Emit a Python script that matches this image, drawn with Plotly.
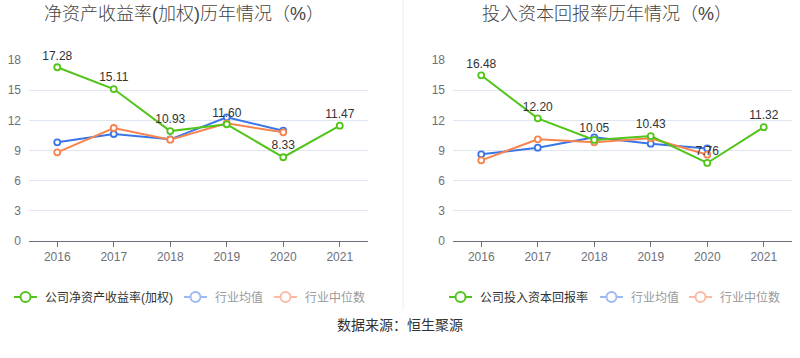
import plotly.graph_objects as go

years = ["2016", "2017", "2018", "2019", "2020", "2021"]
years_ind = ["2016", "2017", "2018", "2019", "2020"]

roe_company = [17.28, 15.11, 10.93, 11.60, 8.33, 11.47]
roe_mean = [9.81, 10.64, 10.11, 12.30, 10.97]
roe_median = [8.82, 11.24, 10.08, 11.70, 10.81]

roic_company = [16.48, 12.20, 10.05, 10.43, 7.76, 11.32]
roic_mean = [8.62, 9.28, 10.31, 9.68, 9.21]
roic_median = [8.02, 10.11, 9.81, 10.21, 8.58]

titles = ["净资产收益率(加权)历年情况（%）", "投入资本回报率历年情况（%）"]
company_names = ["公司净资产收益率(加权)", "公司投入资本回报率"]
mean_name = "行业均值"
median_name = "行业中位数"
source_text = "数据来源：恒生聚源"
y_ticks = [0, 3, 6, 9, 12, 15, 18]

GREEN = "#52c41a"
BLUE = "#3a75e8"
ORANGE = "#f7844f"
BLUE_L = "#9dbaf5"
ORANGE_L = "#fbbba2"
FONT = "Liberation Sans, Noto Sans CJK SC"

fig = go.Figure()

def add_series(x, y, color, xa, ya, labels):
    fig.add_trace(go.Scatter(
        x=x, y=y, xaxis=xa, yaxis=ya, mode="lines+markers+text" if labels else "lines+markers",
        line=dict(color=color, width=2),
        marker=dict(symbol="circle", size=6, color="white", line=dict(color=color, width=1.8)),
        text=[f"{v:.2f}" for v in y] if labels else None,
        textposition="top center",
        textfont=dict(size=12, color="#333333", family=FONT),
        hoverinfo="skip", showlegend=False, cliponaxis=False,
    ))

add_series(years_ind, roe_mean, BLUE, "x", "y", False)
add_series(years_ind, roe_median, ORANGE, "x", "y", False)
add_series(years, roe_company, GREEN, "x", "y", True)
add_series(years_ind, roic_mean, BLUE, "x2", "y2", False)
add_series(years_ind, roic_median, ORANGE, "x2", "y2", False)
add_series(years, roic_company, GREEN, "x2", "y2", True)

W, H = 800, 358
ydom = [1 - 241 / H, 1 - 60 / H]
xcommon = dict(type="category", categoryorder="array", categoryarray=years, range=[-0.5, 5.5],
               showline=True, linecolor="#6e7079", linewidth=1, ticks="outside", ticklen=5,
               tickcolor="#6e7079", showgrid=False, zeroline=False, automargin=False,
               tickfont=dict(size=12, color="#6e7079", family=FONT), fixedrange=True)
ycommon = dict(range=[0, 18], tickvals=y_ticks, showgrid=True, gridcolor="#e0e6f1", gridwidth=1,
               zeroline=False, showline=False, ticks="", ticklabelstandoff=7, automargin=False,
               tickfont=dict(size=12, color="#6e7079", family=FONT), domain=ydom, fixedrange=True)

fig.update_layout(
    width=W, height=H, margin=dict(l=0, r=0, t=0, b=0, pad=0),
    paper_bgcolor="white", plot_bgcolor="white",
    font=dict(family=FONT),
    xaxis=dict(domain=[29 / W, 368 / W], anchor="y", **xcommon),
    yaxis=dict(anchor="x", **ycommon),
    xaxis2=dict(domain=[453 / W, 792 / W], anchor="y2", **xcommon),
    yaxis2=dict(anchor="x2", **ycommon),
    showlegend=False,
)

annotations = []
shapes = []
for cx, t in zip([184, 607], titles):
    annotations.append(dict(x=cx / W, y=1 - 14 / H, xref="paper", yref="paper", text=t, showarrow=False,
                            xanchor="center", yanchor="middle",
                            font=dict(size=18, color="#444444", family=FONT, weight=300)))
shapes.append(dict(type="line", xref="paper", yref="paper", x0=403 / W, x1=403 / W, y0=1 - 310 / H, y1=1,
                   line=dict(color="#eeeeee", width=1)))

ly = 297
def legend_item(x0, color, text, tcolor):
    shapes.append(dict(type="line", xref="paper", yref="paper", x0=x0 / W, x1=(x0 + 23) / W,
                       y0=1 - ly / H, y1=1 - ly / H, line=dict(color=color, width=2)))
    shapes.append(dict(type="circle", xref="paper", yref="paper", x0=(x0 + 11.5 - 5) / W, x1=(x0 + 11.5 + 5) / W,
                       y0=1 - (ly + 5) / H, y1=1 - (ly - 5) / H, fillcolor="white", line=dict(color=color, width=2)))
    annotations.append(dict(x=(x0 + 29) / W, y=1 - ly / H, xref="paper", yref="paper", text=text, showarrow=False,
                            xanchor="left", yanchor="middle", font=dict(size=12, color=tcolor, family=FONT)))

legend_item(14, GREEN, company_names[0], "#333333")
legend_item(184, BLUE_L, mean_name, "#999999")
legend_item(274, ORANGE_L, median_name, "#999999")
legend_item(449, GREEN, company_names[1], "#333333")
legend_item(600, BLUE_L, mean_name, "#999999")
legend_item(689, ORANGE_L, median_name, "#999999")

annotations.append(dict(x=400 / W, y=1 - 325 / H, xref="paper", yref="paper", text=source_text, showarrow=False,
                        xanchor="center", yanchor="middle", font=dict(size=14, color="#333333", family=FONT)))

fig.update_layout(annotations=annotations, shapes=shapes)
fig.write_html("out.html", config={"displayModeBar": False},
               post_script="document.body.style.margin='0';document.body.style.overflow='hidden';")
